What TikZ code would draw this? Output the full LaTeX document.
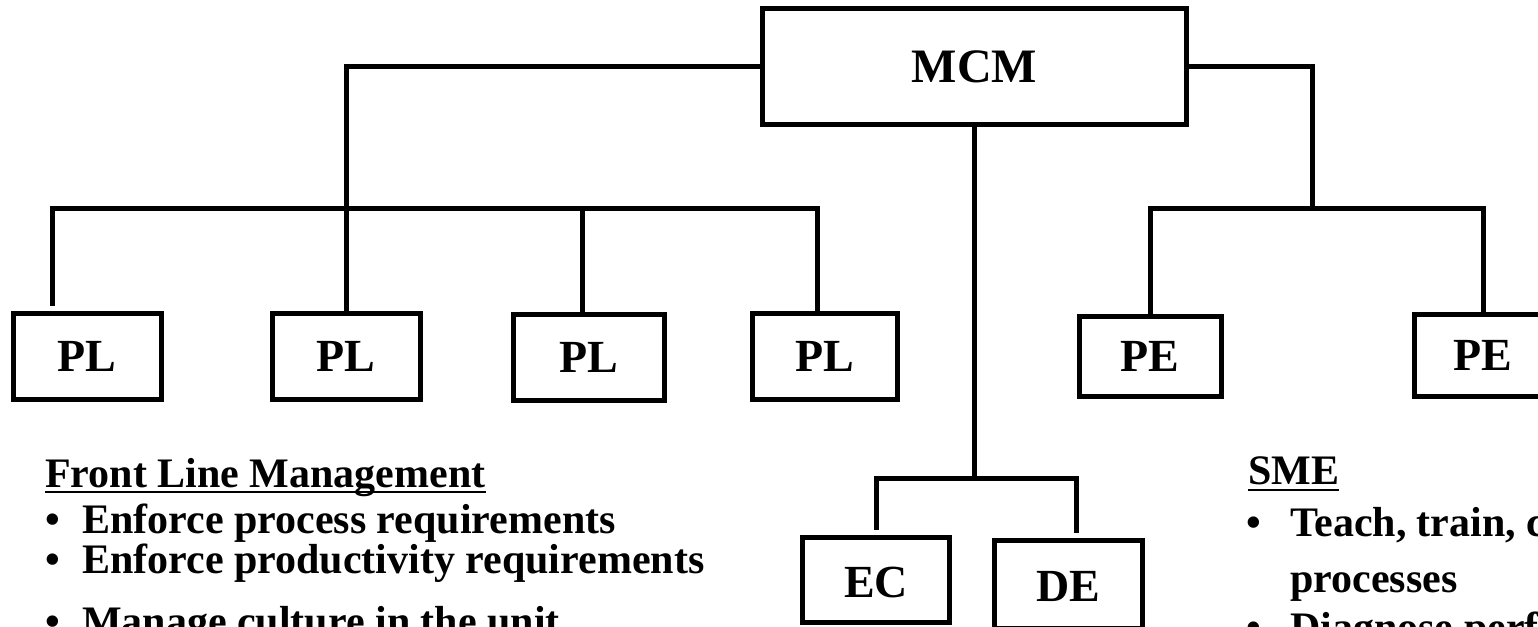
\documentclass[tikz,border=0pt]{standalone}
\usepackage{fontspec}
\setmainfont{Liberation Serif}
\usetikzlibrary{positioning, calc}

\newcommand\bul[1]{\makebox[#1][l]{\textbullet}}

\tikzset{
  box/.style={draw, line width=5pt, inner sep=0pt, font=\fontsize{46}{48}\selectfont\bfseries},
  plbox/.style={box, minimum width=148pt, minimum height=86pt},
  line/.style={line width=5pt},
  txt/.style={inner sep=0pt, anchor=base west, font=\fontsize{42}{44}\selectfont\bfseries}
}

\begin{document}
\begin{tikzpicture}[x=1pt, y=-1pt]
  \useasboundingbox (0,0) rectangle (1538,626);
  \clip (0,0) rectangle (1538,626);

  \node[box, minimum width=424pt, minimum height=116pt, font=\fontsize{48}{50}\selectfont\bfseries] (mcm) at (974.5,66.5) {MCM};

  \node[plbox] (pl1) at (87,356) {PL};
  \node[plbox] (pl2) at (346,356) {PL};
  \node[plbox, minimum width=151pt] (pl3) at (589,357) {PL};
  \node[plbox, minimum width=145pt] (pl4) at (825,356) {PL};

  \node[plbox, minimum width=142pt, minimum height=80pt] (pe1) at (1150,356) {PE};
  \node[plbox, minimum width=138pt, minimum height=82pt] (pe2) at (1483,355) {PE};

  \node[plbox, minimum width=147pt, minimum height=85pt, text height=36pt] (ec) at (876,580) {EC};
  \node[plbox, minimum height=88pt, text height=36pt] (de) at (1068,584) {DE};

  \coordinate (plbar) at (0,208);
  \coordinate (ecbar) at (0,478);
  \coordinate (pejoin) at (1312,208);
  \path ([xshift=-35pt,yshift=5pt]pl1.north) coordinate (pl1top)
        ([xshift=-7pt]pl3.north) coordinate (pl3top)
        ([xshift=-8pt]pl4.north) coordinate (pl4top)
        ([yshift=5pt]ec.north) coordinate (ectop)
        ([xshift=8pt,yshift=5pt]de.north) coordinate (detop);

  \draw[line] (mcm.west) -| (pl2.north);
  \draw[line] (pl1top) |- (plbar -| pl4top) -- (pl4top);
  \draw[line] (pl3top) -- (pl3top |- plbar);

  \draw[line] (mcm.south) -- (mcm.south |- ecbar);
  \draw[line] (ectop) |- (ecbar -| detop) -- (detop);

  \draw[line] (mcm.east) -| (pejoin);
  \draw[line] (pe1.north) |- (pejoin) -| (pe2.north);

  \node[txt] (flm) at (45,487) {Front Line Management};
  \draw[line width=2.5pt] ([yshift=-5pt]flm.base west) -- ([yshift=-5pt]flm.base east);
  \node[txt] (fl1) at (45,533) {\bul{37pt}Enforce process requirements};
  \node[txt] (fl2) at (45,573) {\bul{37pt}Enforce productivity requirements};
  \node[txt] (fl3) at (45,635) {\bul{37pt}Manage culture in the unit};

  \node[txt] (sme) at (1248,484) {SME};
  \draw[line width=2.5pt] ([yshift=-6pt]sme.base west) -- ([yshift=-6pt]sme.base east);
  \node[txt] (sm1) at (1246,536) {\bul{44pt}Teach, train, c};
  \node[txt] (sm2) at (1290,592) {processes};
  \node[txt] (sm3) at (1246,641) {\bul{44pt}Diagnose perfo};
\end{tikzpicture}
\end{document}
